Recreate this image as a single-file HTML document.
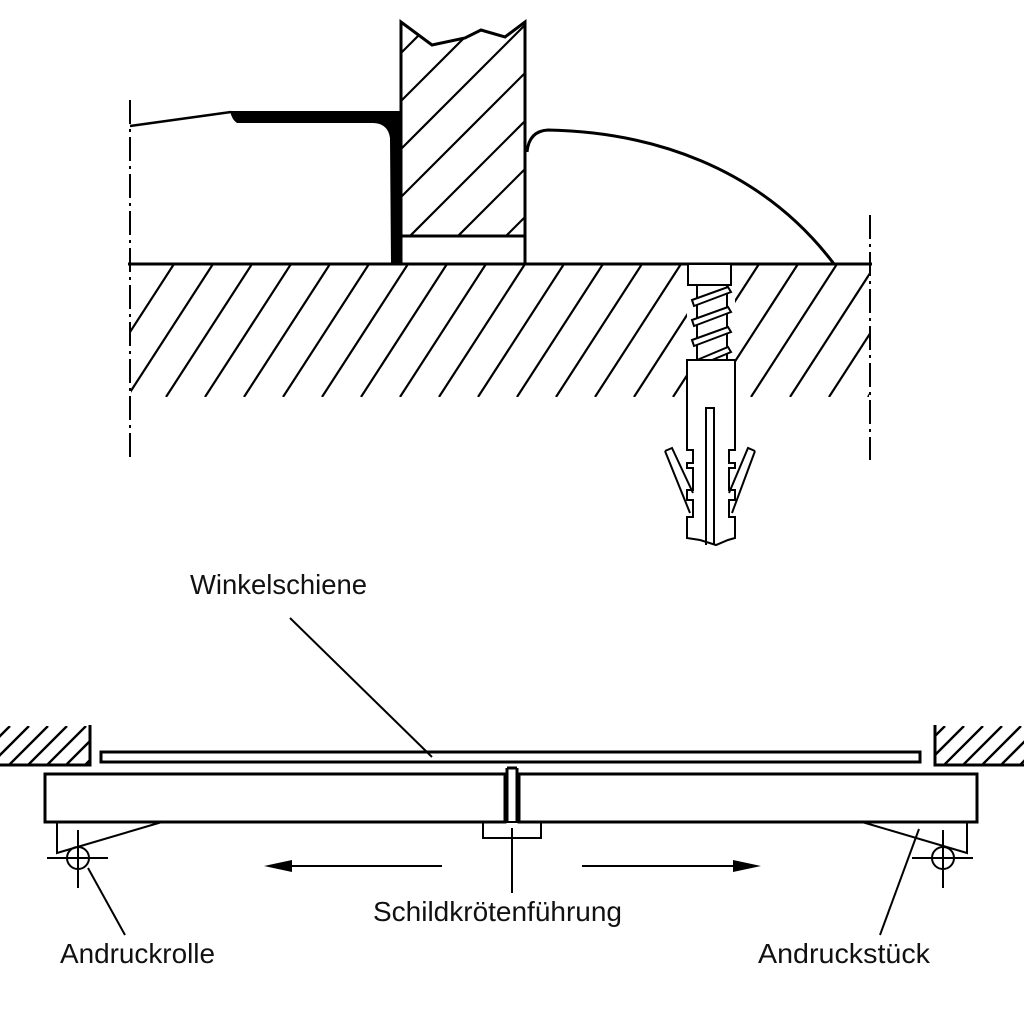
<!DOCTYPE html>
<html><head><meta charset="utf-8"><style>
html,body{margin:0;padding:0;background:#fff;}
svg{display:block;}
text{font-family:"Liberation Sans",Arial,sans-serif;font-size:28px;fill:#111;}
</style></head><body>
<svg width="1024" height="1024" viewBox="0 0 1024 1024" xmlns="http://www.w3.org/2000/svg">
<defs>
<clipPath id="cf"><rect x="131" y="265" width="738" height="132"/></clipPath>
<clipPath id="cw"><path d="M401,236 L401,22 L432,45 L465,38 L481,30 L505,37 L525,22 L525,236 Z"/></clipPath>
<clipPath id="cl"><rect x="0" y="726" width="90" height="39"/></clipPath>
<clipPath id="cr"><rect x="935" y="726" width="89" height="39"/></clipPath>
</defs>
<g fill="none" stroke="#000" stroke-linejoin="miter">
<g clip-path="url(#cf)" stroke-width="2.2">
<line x1="88" y1="397" x2="174" y2="264"/><line x1="127" y1="397" x2="213" y2="264"/>
<line x1="166" y1="397" x2="252" y2="264"/><line x1="205" y1="397" x2="291" y2="264"/>
<line x1="244" y1="397" x2="330" y2="264"/><line x1="283" y1="397" x2="369" y2="264"/>
<line x1="322" y1="397" x2="408" y2="264"/><line x1="361" y1="397" x2="447" y2="264"/>
<line x1="400" y1="397" x2="486" y2="264"/><line x1="439" y1="397" x2="525" y2="264"/>
<line x1="478" y1="397" x2="564" y2="264"/><line x1="517" y1="397" x2="603" y2="264"/>
<line x1="556" y1="397" x2="642" y2="264"/><line x1="595" y1="397" x2="681" y2="264"/>
<line x1="634" y1="397" x2="720" y2="264"/><line x1="673" y1="397" x2="759" y2="264"/>
<line x1="712" y1="397" x2="798" y2="264"/><line x1="751" y1="397" x2="837" y2="264"/>
<line x1="790" y1="397" x2="876" y2="264"/><line x1="829" y1="397" x2="915" y2="264"/>
<line x1="868" y1="397" x2="954" y2="264"/>
</g>
<rect x="687" y="265" width="48" height="290" fill="#fff" stroke="none"/>
<line x1="130" y1="100" x2="130" y2="460" stroke-width="2" stroke-dasharray="24,5,3,5"/>
<line x1="870" y1="215" x2="870" y2="460" stroke-width="2" stroke-dasharray="24,5,3,5"/>
<line x1="128" y1="264" x2="872" y2="264" stroke-width="3"/>
<g clip-path="url(#cw)" stroke-width="2.2">
<line x1="166" y1="240" x2="406" y2="0"/><line x1="214" y1="240" x2="454" y2="0"/>
<line x1="262" y1="240" x2="502" y2="0"/><line x1="310" y1="240" x2="550" y2="0"/>
<line x1="358" y1="240" x2="598" y2="0"/><line x1="406" y1="240" x2="646" y2="0"/>
<line x1="454" y1="240" x2="694" y2="0"/><line x1="502" y1="240" x2="742" y2="0"/>
<line x1="550" y1="240" x2="790" y2="0"/>
</g>
<path d="M401,264 L401,22 L432,45 L465,38 L481,30 L505,37 L525,22 L525,264" stroke-width="3"/>
<line x1="401" y1="236" x2="525" y2="236" stroke-width="3"/>
<path d="M230,111 L400,111 L400,264 L391,264 L390,138 Q388,123 372,123 L237,123 Q232,120 230,111 Z" fill="#000" stroke="none"/>
<line x1="130" y1="126" x2="231" y2="112" stroke-width="2.5"/>
<path d="M527,152 Q529,131 548,130 C650,132 760,166 834,264" stroke-width="3"/>
<rect x="688" y="264" width="43" height="21" stroke-width="2" fill="#fff"/>
<line x1="697" y1="285" x2="697" y2="360" stroke-width="2"/>
<line x1="727" y1="285" x2="727" y2="360" stroke-width="2"/>
<g stroke-width="2" fill="#fff">
<path d="M692,300 L728,287 L731,292 L694,306 Z"/>
<path d="M692,320 L728,307 L731,312 L694,326 Z"/>
<path d="M692,340 L728,327 L731,332 L694,346 Z"/>
<path d="M697,360 L728,347 L731,352 L712,360"/>
</g>
<path d="M687,360 L735,360 L735,450 L729,450 L729,463 L735,463 L735,468 L729,468 L729,490 L735,490 L735,500 L729,500 L729,517 L735,517 L735,538 L728,540 L716,545 L700,540 L687,538 L687,517 L693,517 L693,500 L687,500 L687,490 L693,490 L693,468 L687,468 L687,463 L693,463 L693,450 L687,450 Z" stroke-width="2" fill="#fff"/>
<path d="M706,545 L706,408 L714,408 L714,545" stroke-width="2"/>
<path d="M665,451 L672,448 L693,493 M665,451 L690,513" stroke-width="2"/>
<path d="M755,451 L748,448 L729,493 M755,451 L732,513" stroke-width="2"/>
<g clip-path="url(#cl)" stroke-width="2.4">
<line x1="-30" y1="766" x2="10" y2="726"/><line x1="-11" y1="766" x2="29" y2="726"/>
<line x1="8" y1="766" x2="48" y2="726"/><line x1="27" y1="766" x2="67" y2="726"/>
<line x1="46" y1="766" x2="86" y2="726"/><line x1="65" y1="766" x2="105" y2="726"/>
<line x1="84" y1="766" x2="124" y2="726"/>
</g>
<path d="M0,765 L90,765 L90,725" stroke-width="3"/>
<g clip-path="url(#cr)" stroke-width="2.4">
<line x1="905" y1="766" x2="945" y2="726"/><line x1="924" y1="766" x2="964" y2="726"/>
<line x1="943" y1="766" x2="983" y2="726"/><line x1="962" y1="766" x2="1002" y2="726"/>
<line x1="981" y1="766" x2="1021" y2="726"/><line x1="1000" y1="766" x2="1040" y2="726"/>
<line x1="1019" y1="766" x2="1059" y2="726"/>
</g>
<path d="M1024,765 L935,765 L935,725" stroke-width="3"/>
<rect x="101" y="752" width="819" height="10" stroke-width="3"/>
<rect x="45" y="774" width="460" height="48" stroke-width="3"/>
<rect x="519" y="774" width="458" height="48" stroke-width="3"/>
<path d="M507,768 L507,822 M517,768 L517,822 M507,768 L517,768" stroke-width="3"/>
<rect x="483" y="822" width="58" height="16" stroke-width="2"/>
<line x1="512" y1="828" x2="512" y2="893" stroke-width="2"/>
<path d="M57,822 L57,853 L162,822" stroke-width="2"/>
<circle cx="78" cy="858" r="11" stroke-width="2"/>
<path d="M47,858 L108,858 M78,830 L78,888" stroke-width="2"/>
<path d="M967,822 L967,853 L862,822" stroke-width="2"/>
<circle cx="943" cy="858" r="11" stroke-width="2"/>
<path d="M912,858 L973,858 M943,830 L943,888" stroke-width="2"/>
<line x1="290" y1="618" x2="432" y2="757" stroke-width="2"/>
<line x1="88" y1="868" x2="125" y2="935" stroke-width="2"/>
<line x1="919" y1="829" x2="880" y2="935" stroke-width="2"/>
<line x1="280" y1="866" x2="442" y2="866" stroke-width="2"/>
<path d="M264,866 L292,860 L292,872 Z" fill="#000" stroke="none"/>
<line x1="582" y1="866" x2="745" y2="866" stroke-width="2"/>
<path d="M761,866 L733,860 L733,872 Z" fill="#000" stroke="none"/>
</g>
<text x="190" y="594" textLength="177" lengthAdjust="spacingAndGlyphs">Winkelschiene</text>
<text x="373" y="921" textLength="249" lengthAdjust="spacingAndGlyphs">Schildkrötenführung</text>
<text x="60" y="963" textLength="155" lengthAdjust="spacingAndGlyphs">Andruckrolle</text>
<text x="758" y="963" textLength="172" lengthAdjust="spacingAndGlyphs">Andruckstück</text>
</svg>
</body></html>
